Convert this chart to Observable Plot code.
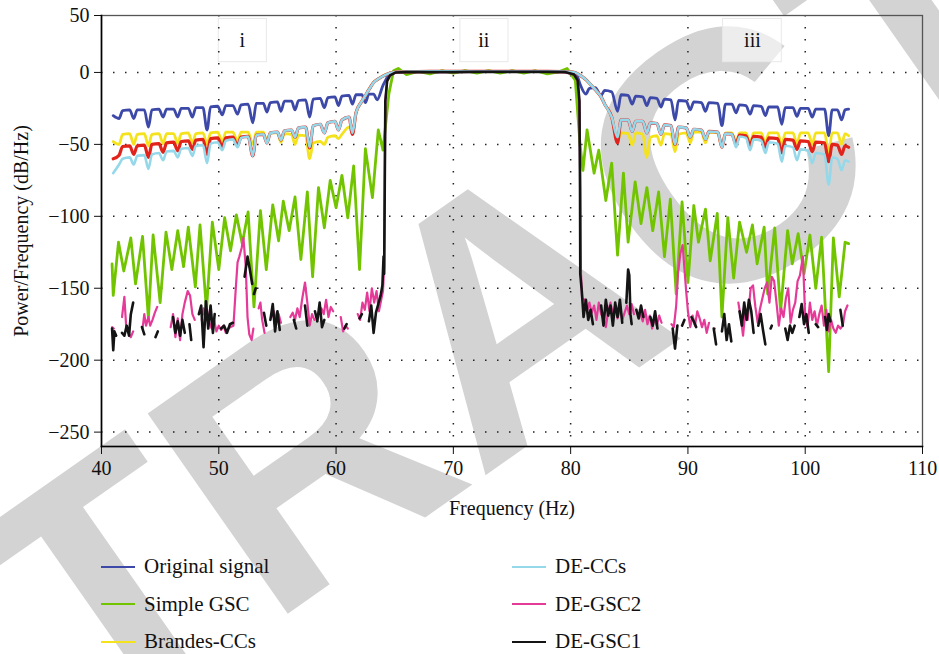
<!DOCTYPE html>
<html>
<head>
<meta charset="utf-8">
<script src="https://cdn.jsdelivr.net/npm/d3@7"></script>
<script src="https://cdn.jsdelivr.net/npm/@observablehq/plot@0.6"></script>
<style>
  body { margin: 0; background: #fff; font-family: "Liberation Serif", serif; }
  #wrap { position: relative; width: 939px; height: 654px; overflow: hidden; }
  #wm, #chart { position: absolute; left: 0; top: 0; }
  #legend { position: absolute; left: 101px; top: 548px; display: grid;
    grid-template-columns: 411px 300px; grid-template-rows: repeat(3, 37.5px);
    grid-auto-flow: column; font-size: 21px; color: #111; }
  .item { display: flex; align-items: center; white-space: nowrap; }
  .sw { width: 34px; height: 0; border-top: 2px solid; margin-right: 9px; }
</style>
</head>
<body>
<div id="wrap">
  <svg id="wm" width="939" height="654">
    <text x="510" y="302" transform="rotate(-35 510 302)" text-anchor="middle" dy="0.36em"
      font-family="Liberation Sans" font-weight="bold" font-size="355" fill="#d3d3d3">RETRACTED</text>
  </svg>
  <div id="chart"></div>
  <div id="legend"></div>
</div>
<script>
// ---------- tick values ----------
const xTicks = [40, 50, 60, 70, 80, 90, 100, 110];
const yTicks = [-250, -200, -150, -100, -50, 0, 50];
const xGrid = [50, 60, 70, 80, 90, 100];
const yGrid = [-250, -200, -150, -100, -50, 0];

// ---------- shared frequency grid of the rippled spectra (Hz) ----------
const freqRipple = [
  41.0, 41.5, 41.8, 42.4, 42.75, 43.05, 43.65, 44.0, 44.3, 44.9, 45.25, 45.55, 46.15, 46.5, 46.8, 47.4,
  47.75, 48.05, 48.65, 49.0, 49.3, 49.9, 50.3, 50.6, 51.2, 51.6, 51.9, 52.5, 52.9, 53.2, 53.8, 54.1, 54.4,
  55.0, 55.3, 55.6, 56.2, 56.5, 56.8, 57.4, 57.75, 58.05, 58.65, 59.0, 59.3, 59.9, 60.2, 60.5, 61.1, 61.4,
  61.7, 62.2, 62.5, 62.8, 63.2, 63.5, 64.0, 64.4, 64.8, 65.3,
  66.5, 68, 70, 72, 74, 76, 78, 79.3,
  80.0, 80.5, 80.8, 81.3, 81.6, 82.1, 82.6, 82.9, 83.5,
  84.0, 84.3, 84.9, 85.25, 85.55, 86.15, 86.5, 86.8, 87.35, 87.7, 88.0, 88.55, 88.9, 89.2, 89.85,
  90.2, 90.5, 91.15, 91.5, 91.8, 92.55, 92.9, 93.2, 93.75, 94.1, 94.4, 94.95, 95.3, 95.6, 96.25,
  96.6, 96.9, 97.65, 98.0, 98.3, 98.95, 99.3, 99.6, 100.25, 100.6, 100.9, 101.65, 102.0, 102.3, 102.75,
  103.1, 103.4, 103.7
];

// ---------- Original signal (dB/Hz) ----------
const originalSignal = [
  -30, -32, -26.5, -26, -32, -26, -26, -38, -26, -25.5, -31, -25.5, -25.5, -31, -25, -25,
  -31, -24.5, -24.5, -40, -24, -23.5, -29.5, -23, -23, -29, -22.5, -22, -35, -21.5, -21.5, -27.5, -21,
  -20.5, -27, -20, -20, -26, -19.5, -19, -31, -18.5, -18, -24.5, -17.5, -17, -23, -16.5, -16, -22,
  -15.5, -15.5, -21, -15, -15, -19, -9, -3, -0.5, 0.5,
  0.8, 1, 1, 1, 1, 1, 1, 0.8,
  0.3, -1.5, -8, -15, -11, -10.5, -16, -12.5, -13.5,
  -27, -15.5, -16, -22, -16.5, -17, -23, -17.5, -18, -24, -18.5, -19, -33, -19.5, -20,
  -26, -20.5, -21, -27, -21, -21.5, -37, -22, -22, -28, -22.5, -23, -29, -23, -23.5,
  -30, -24, -24, -36, -24.5, -24.5, -30.5, -25, -25, -31, -25.5, -25.5, -44, -26, -26,
  -33, -26, -25.5
];

// ---------- Brandes-CCs ----------
const brandesCCs = [
  -48, -50, -43, -42.5, -50, -43, -42.5, -51, -43, -42.5, -49.5, -42.5, -42.5, -49.5, -42.5, -42,
  -49, -42.5, -42, -50, -42, -41.5, -48, -41.5, -41.5, -48, -41.5, -41.5, -50, -41.5, -41.5, -48, -42,
  -42, -48.5, -42.5, -43, -50, -43.5, -44, -60, -49, -48, -50, -45, -44, -46, -43, -38, -42,
  -28, -20, -16, -12, -7, -5, -2.5, -1, 0, 0.5,
  0.8, 1, 1, 1, 1, 1, 1, 0.8,
  0.5, -0.5, -2, -5, -7.5, -12, -17, -22, -31,
  -47, -42, -42.5, -50.5, -42, -43, -59, -45, -44, -50.5, -42.5, -43, -55, -43, -42,
  -49, -41.5, -41.5, -49, -41.5, -42, -52, -42, -42, -49, -42, -42, -49.5, -42, -42,
  -49.5, -42, -42, -51, -42, -42, -49.5, -42, -42, -50, -42, -42, -56, -42, -42,
  -50, -42.5, -44
];

// ---------- red series (its legend entry lies below the visible area) ----------
const redSeries = [
  -60, -57.5, -51.5, -51, -57, -51, -50.5, -59, -50, -49.5, -55.5, -49, -48.5, -54.5, -48, -47.5,
  -53.5, -47, -46.5, -57, -46, -45.5, -51.5, -45.5, -45, -51, -45, -44.5, -58, -43.5, -43, -49, -42,
  -41.5, -47, -40.5, -40, -45, -38.5, -38, -52.5, -37, -36, -42, -35, -34, -40, -33, -31, -43,
  -28, -20, -16, -12, -7, -5, -2.5, -1, 0, 0.5,
  0.8, 1, 1, 1, 1, 1, 1, 0.8,
  0.5, -0.5, -2, -5, -7.5, -12, -17, -22, -31,
  -49, -33, -33, -41, -34, -34, -42, -35, -35.5, -43, -36.5, -37, -50, -38, -38.5,
  -45, -39.5, -40, -46.5, -41, -41.5, -52, -42.5, -43, -50, -43.5, -44, -51, -44.5, -45,
  -52, -45.5, -46, -56, -46.5, -47, -53.5, -47.5, -48, -55, -48.5, -49, -62, -50, -50.5,
  -57, -51, -52
];

// ---------- DE-CCs ----------
const deCCs = [
  -70, -64, -60, -59, -64, -58, -57.5, -67, -57, -56, -61, -55, -54.5, -59, -53, -52.5,
  -58, -51, -50.5, -63, -49.5, -48.5, -54, -47.5, -46.5, -52, -45.5, -44.5, -58, -43.5, -43, -49, -42,
  -41.5, -47, -40.5, -40, -45, -38.5, -38, -52, -37, -36, -42, -35, -34, -40, -33, -31, -42,
  -28, -20, -16, -12, -7, -5, -2.5, -1, 0, 0.5,
  0.8, 1, 1, 1, 1, 1, 1, 0.8,
  0.5, -0.5, -2, -5, -7.5, -12, -17, -22, -31,
  -45, -33, -33, -41, -34, -34, -42, -35, -35.5, -43, -36.5, -37, -50, -38, -38.5,
  -45, -39.5, -40, -46.5, -41, -41.5, -52, -42.5, -43, -52, -44.5, -45.5, -54, -46.5, -47.5,
  -56, -48.5, -49.5, -62, -51, -52, -61, -53.5, -54.5, -63, -56, -57, -78, -59, -60,
  -68, -61, -62
];

// ---------- Simple GSC (own frequency grid) ----------
const simpleGscFreq = [
  40.9, 41.0, 41.45, 41.9, 42.5, 42.9, 43.5, 44.0, 44.4, 45.0, 45.5, 46.0, 46.5, 47.0, 47.4, 48.0, 48.4,
  48.95, 49.45, 50.0, 50.5, 51.0, 51.5, 52.0, 52.5, 53.0, 53.55, 54.05, 54.6, 55.1, 55.5, 56.0, 56.5,
  57.0, 57.55, 58.0, 58.5, 59.0, 59.5, 60.0, 60.5, 61.0, 61.5, 62.0, 62.5, 63.1, 63.6, 64.0, 64.5, 64.9,
  65.3, 66, 67, 68, 69, 70, 71, 72, 73, 74, 75, 76, 77, 78, 79, 79.7,
  80.4, 80.8, 81.05, 81.4, 82.0, 82.4, 83.0, 83.5, 84.0, 84.5, 84.9, 85.5, 86.0, 86.5, 87.0, 87.5,
  88.0, 88.5, 89.0, 89.5, 90.0, 90.5, 90.9, 91.5, 91.9, 92.5, 92.9, 93.4, 93.9, 94.4, 95.0, 95.5,
  95.9, 96.5, 96.8, 97.4, 97.9, 98.5, 98.9, 99.4, 99.9, 100.4, 100.9, 101.4, 102.0, 102.4, 102.9,
  103.4, 103.7
];
const simpleGsc = [
  -133, -155, -118, -138, -115, -147, -114, -171, -113, -160, -111, -137, -110, -135, -107.5, -149, -106,
  -165, -104, -137, -101, -124, -99, -119, -97, -163, -96, -137, -92, -117, -89.5, -110, -86.5,
  -130, -83, -142, -80, -108, -75, -94, -71.5, -101, -65, -137, -53, -87, -40, -54, -15, 1.5,
  3.5, -1.5, 1, -1, 1.5, -0.5, 1.5, -0.5, 1.5, -0.5, 1.5, -0.5, 1.5, -1, 0.5, 3.5,
  -5.5, -50, -68, -40, -70, -54, -89, -63, -127, -70, -118, -76, -105, -80, -110, -83,
  -128, -88, -154, -90, -146, -92.5, -118, -95, -131, -98, -170, -101, -143, -104, -125, -106,
  -133, -107.5, -154, -108, -166, -110, -133, -112, -140, -113, -150, -114.5, -208, -115, -156,
  -118, -119
];

// ---------- DE-GSC2 [Hz, dB/Hz]; NaN marks a break in the trace ----------
const deGsc2 = [
  [40.9,-177],[41.05,-178],[41.2,NaN],[41.75,-170],[41.95,-156],[42.1,-176],[42.3,-181],[42.5,-184],[42.7,-180],[42.85,NaN],
  [43.5,-178],[43.65,-168],[43.8,-176],[44.0,-170],[44.15,-176],[44.35,-172],[44.55,-167],[44.75,-163],[44.9,NaN],
  [45.9,-177],[46.1,-168],[46.3,-184],[46.5,-171],[46.7,-186],[46.9,-168],[47.1,-160],[47.35,-152],[47.55,-155],[47.75,-168],[47.95,-172],[48.1,NaN],
  [48.55,-172],[48.7,-164],[48.85,-170],[49.0,-165],[49.2,-174],[49.4,-178],[49.6,-172],[49.8,-180],[50.0,-176],[50.2,-179],[50.4,-176],[50.6,-181],[50.8,-178],[51.0,-177],[51.25,-176],[51.45,-150],[51.6,-132],[51.75,-128],[51.95,-122],[52.1,-115],[52.3,-135],[52.45,-170],[52.6,-182],[52.8,-186],[52.95,-178],[53.1,NaN],
  [53.4,-164],[53.55,-160],[53.7,-172],[53.9,-181],[54.05,NaN],
  [54.5,-170],[54.7,-166],[54.9,-173],[55.1,-168],[55.3,-174],[55.45,NaN],
  [56.1,-170],[56.3,-167],[56.5,-172],[56.7,-164],[56.9,-170],[57.1,-158],[57.35,-146],[57.55,-160],[57.75,-176],[57.95,-168],[58.15,-172],[58.3,NaN],
  [58.75,-164],[58.95,-168],[59.15,-158],[59.35,-170],[59.55,-163],[59.75,-166],[59.9,NaN],
  [60.4,-170],[60.6,-180],[60.8,-176],[61.0,-178],[61.15,NaN],
  [61.85,-168],[62.05,-172],[62.25,-160],[62.45,-165],[62.65,-153],[62.85,-166],[63.05,-150],[63.25,-160],[63.45,-152],[63.65,-166],[63.85,-158],[64.0,-152],[64.1,-135],[64.15,-80],[64.2,-20],[64.35,-6],[64.6,-2],[65.1,0],
  [66,0.3],[68,0.3],[70,0.3],[72,0.5],[74,0.5],[76,0.5],[78,0.5],[79.5,0.3],[80.3,-1.5],[80.6,-5.5],[80.75,-20],[80.82,-80],[80.88,-140],[80.98,-157],
  [81.2,-158],[81.4,-166],[81.6,-160],[81.8,-167],[82.0,-162],[82.2,-172],[82.4,-160],[82.6,-168],[82.8,-171],[83.0,-177],[83.2,-166],[83.4,-160],[83.6,-168],[83.8,-163],[84.0,-171],[84.2,-164],[84.4,-172],[84.6,-167],[84.8,-162],[85.0,-168],[85.2,-161],[85.4,-168],[85.55,NaN],
  [85.95,-168],[86.15,-173],[86.35,-165],[86.55,-175],[86.75,-169],[86.95,-178],[87.15,-171],[87.35,-176],[87.55,-169],[87.75,-174],[87.9,NaN],
  [88.6,-175],[88.8,-177],[89.0,-162],[89.15,-140],[89.35,-126],[89.55,-120],[89.7,-136],[89.85,-152],[90.0,-166],[90.2,-177],[90.4,-169],[90.6,-176],[90.8,-166],[91.0,-171],[91.2,-177],[91.4,-172],[91.6,-181],[91.8,-174],[91.95,NaN],
  [92.3,-178],[92.45,NaN],
  [94.3,-160],[94.5,-170],[94.7,-183],[94.9,-166],[95.1,-172],[95.35,-150],[95.55,-148],[95.75,-163],[95.95,-174],[96.15,-164],[96.35,-157],[96.55,-150],[96.75,-146],[96.95,-160],[97.15,-142],[97.35,-145],[97.55,-160],[97.75,-176],[97.95,-164],[98.15,-170],[98.35,-157],[98.55,-150],[98.75,-174],[98.95,-165],[99.15,-160],[99.35,-145],[99.55,-141],[99.8,-128],[100.0,-170],[100.2,-177],[100.4,-160],[100.6,-172],[100.8,-166],[101.0,-176],[101.2,-168],[101.4,-162],[101.6,-176],[101.8,-165],[102.0,-180],[102.2,-172],[102.4,-178],[102.6,-181],[102.8,-176],[103.0,-178],[103.2,-176],[103.4,-166],[103.6,-162]
];

// ---------- DE-GSC1 [Hz, dB/Hz]; NaN marks a break in the trace ----------
const deGsc1 = [
  [40.9,-178],[41.0,-193],[41.1,-180],[41.25,-183],[41.35,NaN],
  [41.75,-181],[41.95,-183],[42.15,-176],[42.35,-183],[42.5,-168],[42.7,-160],[42.8,NaN],
  [43.45,-177],[43.65,-182],[43.75,NaN],
  [44.6,-184],[44.8,-180],[44.9,NaN],
  [46.1,-170],[46.3,-181],[46.5,-173],[46.7,-183],[46.9,-172],[47.1,-181],[47.2,NaN],
  [47.5,-175],[47.65,-186],[47.75,NaN],
  [48.3,-168],[48.5,-162],[48.7,-191],[48.9,-159],[49.1,-178],[49.3,-162],[49.5,-181],[49.65,-168],[49.75,NaN],
  [50.2,-178],[50.45,-176],[50.7,-181],[50.95,-175],[51.2,-174],[51.3,NaN],
  [52.2,-142],[52.45,-128],[52.65,-137],[52.85,-147],[52.95,NaN],
  [53.0,-154],[53.15,-150],[53.25,NaN],
  [53.85,-167],[54.05,-176],[54.15,NaN],
  [54.4,-172],[54.6,-161],[54.8,-180],[55.0,-166],[55.2,-179],[55.3,NaN],
  [56.4,-172],[56.6,-178],[56.7,NaN],
  [57.35,-162],[57.55,-176],[57.65,NaN],
  [58.2,-166],[58.4,-173],[58.6,-160],[58.8,-177],[59.0,-172],[59.1,NaN],
  [60.7,-178],[60.9,-175],[61.0,NaN],
  [62.0,-171],[62.2,-168],[62.3,NaN],
  [62.8,-173],[63.0,-162],[63.2,-181],[63.4,-167],[63.6,-161],[63.8,-155],[63.95,-148],[64.05,-128],[64.1,-140],[64.15,-80],[64.2,-20],[64.35,-6],[64.6,-2],[65.1,0],
  [66,0.3],[68,0.3],[70,0.3],[72,0.5],[74,0.5],[76,0.5],[78,0.5],[79.5,0.3],[80.3,-1.5],[80.6,-5.5],[80.75,-20],[80.8,-80],[80.82,-140],[80.95,-152],
  [81.1,-170],[81.3,-158],[81.5,-172],[81.7,-165],[81.9,-175],[82.0,NaN],
  [82.6,-162],[82.8,-176],[83.0,-158],[83.2,-169],[83.4,-162],[83.6,-176],[83.8,-160],[84.0,-170],[84.2,-158],[84.4,-174],[84.5,NaN],
  [84.75,-160],[84.9,-137],[85.0,-141],[85.1,-168],[85.2,-175],[85.3,NaN],
  [85.6,-165],[85.8,-171],[86.0,-162],[86.2,-170],[86.3,NaN],
  [86.8,-170],[87.0,-176],[87.2,-166],[87.4,-178],[87.5,NaN],
  [88.7,-178],[88.9,-192],[89.1,-176],[89.2,NaN],
  [89.5,-176],[89.7,-172],[89.8,NaN],
  [90.3,-170],[90.5,-173],[90.7,-177],[90.8,NaN],
  [92.2,-178],[92.4,-189],[92.5,NaN],
  [92.9,-180],[93.1,-168],[93.3,-186],[93.5,-175],[93.7,-187],[93.8,NaN],
  [94.4,-166],[94.6,-176],[94.8,-160],[95.0,-172],[95.2,-158],[95.4,-166],[95.6,-181],[95.7,NaN],
  [96.0,-176],[96.2,-168],[96.4,-179],[96.6,-189],[96.7,NaN],
  [97.05,-178],[97.15,-176],[97.2,NaN],
  [98.3,-178],[98.5,-186],[98.7,-176],[98.9,-181],[99.1,-176],[99.2,NaN],
  [99.5,-170],[99.7,-161],[99.9,-175],[100.1,-168],[100.3,-181],[100.4,NaN],
  [100.9,-175],[101.1,-177],[101.2,NaN],
  [101.7,-170],[101.85,-179],[102.0,-168],[102.15,-173],[102.25,NaN],
  [103.0,-165],[103.2,-176],[103.3,NaN]
];

// ---------- region labels ----------
const regionLabels = ["i", "ii", "iii"];
const regionCenter = [52.0, 72.6, 95.5];
const regionLeft = [50.0, 70.6, 93.0];
const regionRight = [54.1, 74.7, 98.0];
const regionLevel = 28;
const regionBoxTop = 47;
const regionBoxBottom = 9;

// ---------- series styling ----------
const C = {
  original: "#3d49a8", simple: "#72c400", brandes: "#f4e21c", red: "#e2231c",
  deccs: "#94d8ea", degsc2: "#e53b98", degsc1: "#141414"
};

const rowsXY = (xs, ys) => xs.map((x, i) => ({x, y: ys[i]}));
const rowsPairs = (pairs) => pairs.map(([x, y]) => ({x, y}));

// The reference axis is drawn more compressed above 0 dB than below it.
const upperCompression = 57 / 72;
const yTransform = v => (v > 0 ? v * upperCompression : v);
const yUntransform = v => (v > 0 ? v / upperCompression : v);
const fmt = d => { const v = Math.round(yUntransform(d)); return v < 0 ? "\u2212" + (-v) : String(v); };

const W = 939, H = 530;
const chart = Plot.plot({
  width: W, height: H,
  marginLeft: 101, marginRight: 17, marginTop: 15, marginBottom: H - 446,
  style: { fontFamily: "Liberation Serif, serif", fontSize: "20px", background: "transparent", color: "#111", overflow: "visible" },
  x: { domain: [40, 110] },
  y: { domain: [-260, yTransform(50)], transform: yTransform },
  marks: [
    Plot.rect(regionLabels, { x1: (d, i) => regionLeft[i], x2: (d, i) => regionRight[i], y1: () => regionBoxBottom, y2: () => regionBoxTop, fill: "white", fillOpacity: 0.6, stroke: "#e8e8e8", strokeWidth: 1 }),
    Plot.gridX(xGrid, { stroke: "#222", strokeOpacity: 1, strokeWidth: 1.5, strokeDasharray: "1.5,10.5" }),
    Plot.gridY(yGrid, { stroke: "#222", strokeOpacity: 1, strokeWidth: 1.5, strokeDasharray: "1.5,10.5" }),
    Plot.frame({ stroke: "#555", strokeWidth: 1.3 }),
    Plot.axisX({ ticks: xTicks, tickSize: 8, tickPadding: 6, tickFormat: d => String(d), label: "Frequency (Hz)", labelAnchor: "center", labelArrow: "none", labelOffset: 68 }),
    Plot.axisY({ ticks: yTicks.map(yTransform), tickSize: 7, tickPadding: 5, tickFormat: fmt, label: "Power/Frequency (dB/Hz)", labelAnchor: "center", labelArrow: "none", labelOffset: 88 }),
    Plot.text(regionLabels, { x: (d, i) => regionCenter[i], y: () => regionLevel, text: d => d, fontSize: 20 }),
    Plot.line(rowsXY(freqRipple, originalSignal), { x: "x", y: "y", stroke: C.original, strokeWidth: 2.8, curve: "monotone-x" }),
    Plot.line(rowsXY(simpleGscFreq, simpleGsc), { x: "x", y: "y", stroke: C.simple, strokeWidth: 2.8, strokeLinejoin: "round" }),
    Plot.line(rowsXY(freqRipple, brandesCCs), { x: "x", y: "y", stroke: C.brandes, strokeWidth: 2.8, curve: "monotone-x" }),
    Plot.line(rowsXY(freqRipple, redSeries), { x: "x", y: "y", stroke: C.red, strokeWidth: 3.2, curve: "monotone-x" }),
    Plot.line(rowsXY(freqRipple, deCCs), { x: "x", y: "y", stroke: C.deccs, strokeWidth: 2.6, curve: "monotone-x" }),
    Plot.line(rowsPairs(deGsc2), { x: "x", y: "y", stroke: C.degsc2, strokeWidth: 2.2 }),
    Plot.line(rowsPairs(deGsc1), { x: "x", y: "y", stroke: C.degsc1, strokeWidth: 2.6 }),
    Plot.frame({ anchor: "left", stroke: "#000", strokeWidth: 1.6 }),
    Plot.frame({ anchor: "bottom", stroke: "#000", strokeWidth: 1.6 })
  ]
});
document.getElementById("chart").appendChild(chart);

// ---------- legend ----------
const legendLabels = ["Original signal", "Simple GSC", "Brandes-CCs", "DE-CCs", "DE-GSC2", "DE-GSC1"];
const legendColors = [C.original, C.simple, C.brandes, C.deccs, C.degsc2, C.degsc1];
const legend = document.getElementById("legend");
legendLabels.forEach((lab, i) => {
  const it = document.createElement("div");
  it.className = "item";
  if (i === 3) it.style.gridRow = "1";
  const sw = document.createElement("span");
  sw.className = "sw";
  sw.style.borderTopColor = legendColors[i];
  const tx = document.createElement("span");
  tx.textContent = lab;
  it.appendChild(sw); it.appendChild(tx);
  legend.appendChild(it);
});
</script>
</body>
</html>
